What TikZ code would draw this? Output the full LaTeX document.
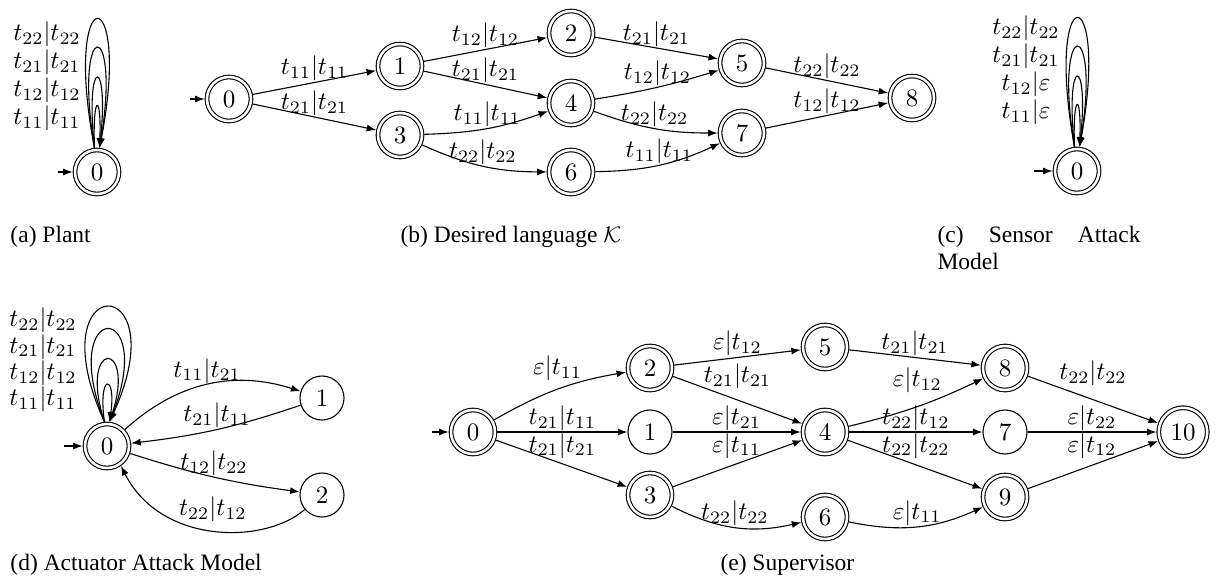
\documentclass[tikz,border=0pt]{standalone}
\usepackage[no-math]{fontspec}
\newfontfamily\capfont{Liberation Serif}
\usetikzlibrary{arrows.meta}
\begin{document}
\begin{tikzpicture}[x=0.4pt,y=-0.4pt,
  every node/.style={font=\fontsize{10}{11.2}\selectfont},
  st/.style={circle,draw,line width=0.44pt,minimum size=17.6pt,inner sep=0pt},
  acc/.style={st,double,double distance=1pt,outer sep=0.94pt},
  tr/.style={line width=0.44pt,-{Latex[length=3.8pt,width=2.8pt]}},
  lab/.style={inner sep=0.3pt},
  stack/.style={align=center,inner sep=0pt,font=\fontsize{10}{11.2}\selectfont},
  captext/.style={inner sep=0pt,font=\capfont\fontsize{9.4}{10.8}\selectfont}]
\fill[white] (0,0) rectangle (1217,580);
\useasboundingbox (0,0) rectangle (1217,580);

% ---------- (a) Plant
\node[acc] (a0) at (97,172) {$0$};
\coordinate (ia) at (58,172);
\draw[tr] (ia) -- (a0);
\foreach \w/\h in {33/171,22/133,10/93,2/55}
  \draw[tr] (a0.96) .. controls +(-\w,-\h) and +(\w,-\h) .. (a0.84);
\node[stack] (la) at (47,76.5) {$t_{22}|t_{22}$\\$t_{21}|t_{21}$\\$t_{12}|t_{12}$\\$t_{11}|t_{11}$};
\node[captext,anchor=base west] (capa) at (10,242) {(a) Plant};

% ---------- (b) Desired language
\node[acc] (b0) at (229,99) {$0$};
\node[acc] (b1) at (400,66) {$1$};
\node[acc] (b3) at (400,135) {$3$};
\node[acc] (b2) at (571,33) {$2$};
\node[acc] (b4) at (571,103) {$4$};
\node[acc] (b6) at (571,172) {$6$};
\node[acc] (b5) at (742,63) {$5$};
\node[acc] (b7) at (742,133) {$7$};
\node[acc] (b8) at (912,98) {$8$};
\coordinate (ib) at (190,99);
\draw[tr] (ib) -- (b0);
\draw[tr] (b0) -- node[above,lab]{$t_{11}|t_{11}$} (b1);
\draw[tr] (b0) -- node[above,lab]{$t_{21}|t_{21}$} (b3);
\draw[tr] (b1) -- node[above,lab]{$t_{12}|t_{12}$} (b2);
\draw[tr] (b1) -- node[above,lab]{$t_{21}|t_{21}$} (b4);
\draw[tr] (b3) to[bend right=9] node[above,lab]{$t_{11}|t_{11}$} (b4);
\draw[tr] (b3) to[bend right=12] node[above,lab]{$t_{22}|t_{22}$} (b6);
\draw[tr] (b2) -- node[above,lab]{$t_{21}|t_{21}$} (b5);
\draw[tr] (b4) to[bend right=4] node[above,lab]{$t_{12}|t_{12}$} (b5);
\draw[tr] (b4) to[bend right=10] node[above,lab]{$t_{22}|t_{22}$} (b7);
\draw[tr] (b6) to[bend right=12] node[above,lab]{$t_{11}|t_{11}$} (b7);
\draw[tr] (b5) -- node[above,lab]{$t_{22}|t_{22}$} (b8);
\draw[tr] (b7) -- node[above,lab]{$t_{12}|t_{12}$} (b8);
\node[captext,anchor=base west] (capb) at (400,242) {(b) Desired language $\mathcal{K}$};

% ---------- (c) Sensor attack model
\node[acc] (c0) at (1077,171) {$0$};
\coordinate (ic) at (1034,171);
\draw[tr] (ic) -- (c0);
\foreach \w/\h in {31/171,22/133,10/93,2/55}
  \draw[tr] (c0.96) .. controls +(-\w,-\h) and +(\w,-\h) .. (c0.84);
\node[stack] (lc) at (1026,70) {$t_{22}|t_{22}$\\$t_{21}|t_{21}$\\$t_{12}|\varepsilon$\\$t_{11}|\varepsilon$};
\node[captext,anchor=north west,text width=81.2pt,align=justify] (capc) at (937,226) {(c) Sensor Attack Model};

% ---------- (d) Actuator attack model
\node[acc] (d0) at (107,446) {$0$};
\node[st] (d1) at (322,398) {$1$};
\node[st] (d2) at (322,495) {$2$};
\coordinate (id) at (64,446);
\draw[tr] (id) -- (d0);
\foreach \w/\h in {70/153,48/123,27/83,7/49}
  \draw[tr] (d0.96) .. controls +(-\w,-\h) and +(\w,-\h) .. (d0.84);
\node[stack,font=\fontsize{10}{10.5}\selectfont] (ld) at (43,360) {$t_{22}|t_{22}$\\$t_{21}|t_{21}$\\$t_{12}|t_{12}$\\$t_{11}|t_{11}$};
\draw[tr] (d0) to[bend left=30] node[above,lab]{$t_{11}|t_{21}$} (d1);
\draw[tr] (d1) to[bend left=6] node[above,lab]{$t_{21}|t_{11}$} (d0);
\draw[tr] (d0) to[bend right=5] node[above,lab]{$t_{12}|t_{22}$} (d2);
\draw[tr] (d2.220) .. controls +(-40,35) and +(40,79) .. node[above=3pt,lab]{$t_{22}|t_{12}$} (d0.-55);
\node[captext,anchor=base west] (capd) at (10,570) {(d) Actuator Attack Model};

% ---------- (e) Supervisor
\node[acc] (e0) at (473,432) {$0$};
\node[acc] (e2) at (650,368) {$2$};
\node[st]  (e1) at (650,432) {$1$};
\node[acc] (e3) at (650,495) {$3$};
\node[acc] (e5) at (825,347) {$5$};
\node[acc] (e4) at (825,432) {$4$};
\node[acc] (e6) at (825,517) {$6$};
\node[acc] (e8) at (1005,368) {$8$};
\node[st]  (e7) at (1005,432) {$7$};
\node[acc] (e9) at (1005,497) {$9$};
\node[acc,minimum size=19.4pt] (e10) at (1183,432) {$10$};
\coordinate (ie) at (432,432);
\draw[tr] (ie) -- (e0);
\draw[tr] (e0) to[bend left=10] node[above=3pt,lab]{$\varepsilon|t_{11}$} (e2);
\draw[tr] (e0) -- node[above,lab]{$t_{21}|t_{11}$} node[below,lab]{$t_{21}|t_{21}$} (e1);
\draw[tr] (e0) -- (e3);
\draw[tr] (e2) -- node[above,lab]{$\varepsilon|t_{12}$} (e5);
\draw[tr] (e2) -- node[above=4pt,lab]{$t_{21}|t_{21}$} (e4);
\draw[tr] (e1) -- node[above,lab]{$\varepsilon|t_{21}$} node[below,lab]{$\varepsilon|t_{11}$} (e4);
\draw[tr] (e3) -- (e4);
\draw[tr] (e3) to[bend right=20] node[above,lab]{$t_{22}|t_{22}$} (e6);
\draw[tr] (e5) -- node[above,lab]{$t_{21}|t_{21}$} (e8);
\draw[tr] (e4) to[bend right=6] node[above=5pt,lab]{$\varepsilon|t_{12}$} (e8);
\draw[tr] (e4) -- node[above,lab]{$t_{22}|t_{12}$} node[below,lab]{$t_{22}|t_{22}$} (e7);
\draw[tr] (e4) -- (e9);
\draw[tr] (e6) to[bend right=18] node[above,lab]{$\varepsilon|t_{11}$} (e9);
\draw[tr] (e8) -- node[above=5pt,lab]{$t_{22}|t_{22}$} (e10);
\draw[tr] (e7) -- node[above,lab]{$\varepsilon|t_{22}$} node[below,lab]{$\varepsilon|t_{12}$} (e10);
\draw[tr] (e9) -- (e10);
\node[captext,anchor=base west] (cape) at (720,570) {(e) Supervisor};
\end{tikzpicture}
\end{document}
